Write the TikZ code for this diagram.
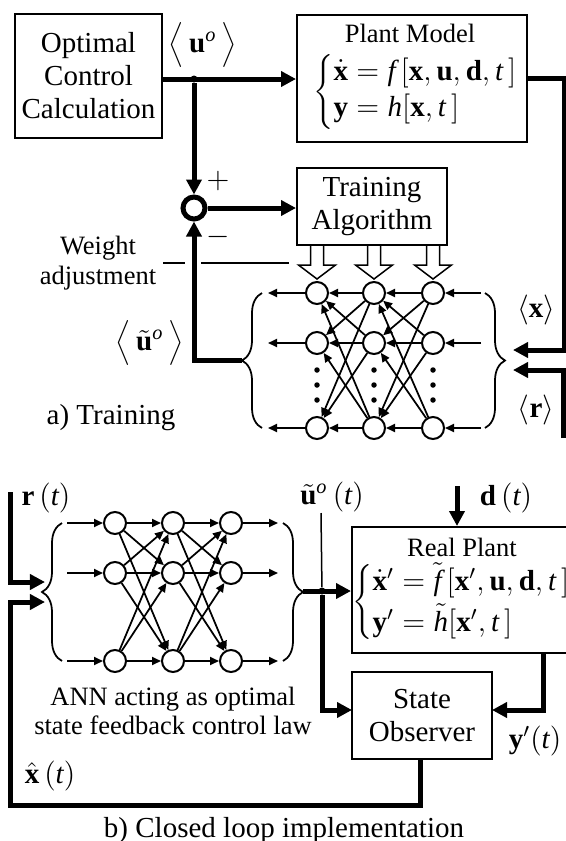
\documentclass[tikz,border=0pt]{standalone}
\usepackage{fontspec}
\setmainfont{Liberation Serif}
\usetikzlibrary{arrows.meta,decorations.pathreplacing,calc}
\newcommand{\bigtxt}{\fontsize{11.6}{13.2}\selectfont}
\newcommand{\midtxt}{\fontsize{10.6}{11.8}\selectfont}
\begin{document}
\begin{tikzpicture}[x=0.4pt,y=-0.4pt,
  box/.style={draw, line width=0.8pt, inner sep=0pt},
  thk/.style={line width=2pt},
  thkarr/.style={line width=2pt, -{Triangle[length=6pt,width=6pt]}},
  thn/.style={line width=0.6pt},
  thnarr/.style={line width=0.7pt, -{Triangle[length=3.6pt,width=3.2pt]}},
  neuron/.style={circle, draw, line width=0.8pt, minimum size=8.8pt, inner sep=0pt},
  txt/.style={font=\bigtxt, align=center, inner sep=0pt},
  stxt/.style={font=\midtxt, align=center, inner sep=0pt},
  dotn/.style={circle, fill, inner sep=0pt, minimum size=2.8pt},
  hollow/.style={line width=0.6pt},
  brc/.style={decorate, decoration={brace, amplitude=8pt}, line width=0.7pt}
]
\useasboundingbox (0,0) rectangle (566,841);

% ---------------- a) Training ----------------
\node[box, txt, minimum width=58.8pt, minimum height=49.6pt] (occ) at (88.5,76) {Optimal\\Control\\Calculation};
\node[txt] (uo) at (203,45) {$\Bigl\langle\,\mathbf{u}^{\mathit{o}}\,\Bigr\rangle$};
\node[box, minimum width=92pt, minimum height=50.8pt] (plant) at (412,78.5) {};
\node[stxt] (plantt) at (410,33) {Plant Model};
\node[font=\bigtxt, inner sep=0pt, anchor=west] (planteq) at (313,92)
  {$\left\{\begin{array}{@{}l@{}}\dot{\mathbf{x}} = \mathit{f}\,[\mathbf{x},\mathbf{u},\mathbf{d},\mathit{t}\,]\\[1.5pt] \mathbf{y} = \mathit{h}[\mathbf{x},\mathit{t}\,]\end{array}\right.$};

\node[dotn] (junc) at (194,79) {};
\draw[thkarr] (occ.east |- junc) -- (junc -| plant.west);

\node[circle, draw, line width=2pt, minimum size=8.8pt, inner sep=0pt] (sum) at (194,208) {};
\draw[thkarr] (junc) -- (sum.north);
\node[txt] (plus) at (218,181) {$+$};
\node[txt] (minus) at (218,237) {$-$};

\node[box, txt, minimum width=60pt, minimum height=30.8pt] (train) at (372,206.5) {Training\\Algorithm};
\draw[thkarr] (sum.east) -- (sum.east -| train.west);

\node[stxt] (wa) at (98,263) {Weight\\adjustment};
\coordinate (wa1) at (163,263);
\coordinate (wa2) at (185,263);
\coordinate (wa3) at (201,263);
\coordinate (wa4) at (289,263);
\draw[thn] (wa1) -- (wa2);
\draw[thn] (wa3) -- (wa4);

\foreach \x in {317,374,433}
  \draw[hollow] ({\x-6.5},245.5) -- ({\x-6.5},265) -- ({\x-18.5},265) -- (\x,279) -- ({\x+18.5},265) -- ({\x+6.5},265) -- ({\x+6.5},245.5);

% top network
\foreach \c/\x in {1/317,2/374,3/433}
  \foreach \r/\y in {1/293,2/343,3/428}
    \node[neuron] (t\c\r) at (\x,\y) {};
\foreach \x in {317,374,433}
  \foreach \y in {370,385,400}
    \fill (\x,\y) circle (1.1pt);
\foreach \i in {1,2,3}
  \foreach \k in {1,2,3} {
    \draw[thnarr] (t2\i) -- (t1\k);
    \draw[thnarr] (t3\i) -- (t2\k);
  }
\foreach \r/\y in {1/293,2/343,3/428} {
  \coordinate (ti\r) at (481,\y);
  \coordinate (to\r) at (268,\y);
  \draw[thnarr] (ti\r) -- (t3\r);
  \draw[thnarr] (t1\r) -- (to\r);
}
\draw[brc] (262,428) -- (262,293);
\coordinate (tlb) at (242,360.5);
\draw[brc] (485,293) -- (485,428);

\draw[thkarr] (tlb) -| (sum.south);
\node[txt] (uto) at (150,343) {$\Bigl\langle\,\tilde{\mathbf{u}}^{\mathit{o}}\,\Bigr\rangle$};

\coordinate (xin) at (513,350);
\coordinate (rin) at (513,370);
\coordinate (rfree) at (563,438);
\draw[thkarr] (plant.east) -- ++(36,0) |- (xin);
\draw[thkarr] (rfree) |- (rin);
\node[txt] (xl) at (536,310) {$\bigl\langle\mathbf{x}\bigr\rangle$};
\node[txt] (rl) at (536,410) {$\bigl\langle\mathbf{r}\bigr\rangle$};
\node[txt] (ta) at (111,418) {a) Training};

% ---------------- b) Closed loop ----------------
\node[txt] (rt) at (46,498) {$\mathbf{r}\,(\mathit{t})$};
\coordinate (rs) at (10,492);
\coordinate (rin2) at (45,582);
\coordinate (xin2) at (45,602);
\draw[thkarr] (rs) |- (rin2);

\foreach \c/\x in {1/115,2/173,3/231}
  \foreach \r/\y in {1/523,2/573,3/661}
    \node[neuron] (b\c\r) at (\x,\y) {};
\foreach \i in {1,2,3}
  \foreach \k in {1,2,3} {
    \draw[thnarr] (b1\i) -- (b2\k);
    \draw[thnarr] (b2\i) -- (b3\k);
  }
\foreach \r/\y in {1/523,2/573,3/661} {
  \coordinate (bi\r) at (67,\y);
  \coordinate (bo\r) at (278,\y);
  \draw[thnarr] (bi\r) -- (b1\r);
  \draw[thnarr] (b3\r) -- (bo\r);
}
\draw[brc] (62,661) -- (62,523);
\draw[brc] (283,523) -- (283,661);
\coordinate (brb) at (303,591);

\node[box, minimum width=86pt, minimum height=50.4pt] (rp) at (459.5,590) {};
\node[stxt] (rpt) at (462,547) {Real Plant};
\node[font=\bigtxt, inner sep=0pt, anchor=west] (rpeq) at (352,602)
  {$\left\{\begin{array}{@{}l@{}}\dot{\mathbf{x}}' = \tilde{\mathit{f}}\,[\mathbf{x}',\mathbf{u},\mathbf{d},\mathit{t}\,]\\[1.5pt] \mathbf{y}' = \tilde{\mathit{h}}[\mathbf{x}',\mathit{t}\,]\end{array}\right.$};

\node[txt] (ut) at (332,497) {$\tilde{\mathbf{u}}^{\mathit{o}}\,(\mathit{t})$};
\node[dotn] (junc2) at (322,591) {};
\coordinate (utl) at (321,513);
\draw[thn] (utl) -- (junc2);
\draw[thkarr] (brb) -- (junc2 -| rp.west);

\node[box, txt, minimum width=56pt, minimum height=34.8pt] (obs) at (422,715.5) {State\\Observer};
\coordinate (obsin) at (352,710);
\coordinate (obsin2) at (492,710);
\draw[thkarr] (junc2) |- (obsin);

\coordinate (dtop) at (457,486);
\draw[thkarr] (dtop) -- (dtop |- rp.north);
\node[txt] (dl) at (506,498) {$\mathbf{d}\,(\mathit{t})$};

\coordinate (rpo) at (543,653);
\draw[thkarr] (rpo) |- (obsin2);
\node[txt] (yl) at (535,741) {$\mathbf{y}'(\mathit{t})$};

\coordinate (fbc) at (10,805);
\draw[thkarr] (obs.south -| 420,0) |- (fbc) |- (xin2);
\node[txt] (xh) at (50,776) {$\hat{\mathbf{x}}\,(\mathit{t})$};

\node[stxt, font=\fontsize{10.6}{11.6}\selectfont] (ann) at (173,711) {ANN acting as optimal\\state feedback control law};
\node[txt] (tb) at (284,831) {b) Closed loop implementation};
\end{tikzpicture}
\end{document}
